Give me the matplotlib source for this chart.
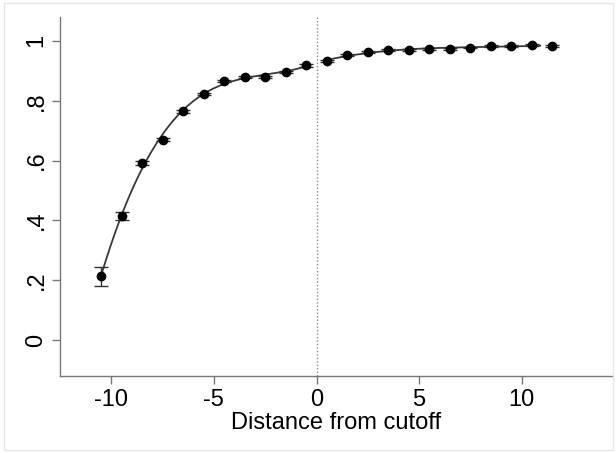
import numpy as np
import matplotlib
matplotlib.use("Agg")
import matplotlib.pyplot as plt
from matplotlib.patches import Rectangle

plt.rcParams['font.family'] = ['Liberation Sans', 'DejaVu Sans']

# Bin midpoints and bin means on each side of the cutoff
x_left = [-10.5, -9.5, -8.5, -7.5, -6.5, -5.5, -4.5, -3.5, -2.5, -1.5, -0.5]
y_left = [0.213, 0.415, 0.592, 0.670, 0.765, 0.823, 0.866, 0.880, 0.880, 0.896, 0.918]
ci_left = [0.033, 0.013, 0.006, 0.005, 0.005, 0.004, 0.004, 0.004, 0.004, 0.004, 0.004]

x_right = [0.5, 1.5, 2.5, 3.5, 4.5, 5.5, 6.5, 7.5, 8.5, 9.5, 10.5, 11.5]
y_right = [0.933, 0.952, 0.963, 0.969, 0.970, 0.973, 0.974, 0.978, 0.983, 0.983, 0.987, 0.983]
ci_right = [0.003, 0.003, 0.003, 0.003, 0.003, 0.003, 0.003, 0.003, 0.003, 0.003, 0.003, 0.003]

xticks = [-10, -5, 0, 5, 10]
yticks = [0, 0.2, 0.4, 0.6, 0.8, 1.0]
ytick_labels = ["0", ".2", ".4", ".6", ".8", "1"]

fig = plt.figure(figsize=(6.16, 4.53), dpi=100)
ax = fig.add_axes([60 / 616, 1 - 376 / 453, 552 / 616, 359 / 453])

# Light outline around the graph region
fig.patches.append(Rectangle((4 / 616, 3 / 453), 609 / 616, 447 / 453,
                             transform=fig.transFigure, fill=False,
                             edgecolor="#e6e6e6", linewidth=1.0))

# Smooth polynomial fits on each side of the cutoff
xl = np.array(x_left)
yl = np.array(y_left)
xr = np.array(x_right)
yr = np.array(y_right)
pl = np.polyfit(xl, yl, 4)
pr = np.polyfit(xr, yr, 3)
gl = np.linspace(xl.min(), xl.max(), 300)
gr = np.linspace(xr.min(), 10.9, 300)
ax.plot(gl, np.polyval(pl, gl), color="#3a3a3a", lw=1.3, zorder=2)
ax.plot(gr, np.polyval(pr, gr), color="#3a3a3a", lw=1.3, zorder=2)

for xs, ys, es in [(x_left, y_left, ci_left), (x_right, y_right, ci_right)]:
    ax.errorbar(xs, ys, yerr=es, fmt="o", color="black", ecolor="#333333",
                elinewidth=1.0, capsize=5, capthick=1.0, markersize=6,
                zorder=3)

ax.axvline(0, color="#8a8a8a", lw=1.0, ls=(0, (1, 1.5)), zorder=1)

ax.set_xlim(-12.5, 14.4)
ax.set_ylim(-0.12, 1.08)
ax.set_xticks(xticks)
ax.set_xticklabels([str(t) for t in xticks])
ax.set_yticks(yticks)
ax.set_yticklabels(ytick_labels, rotation=90, va="center")

for s in ["top", "right"]:
    ax.spines[s].set_visible(False)
for s in ["left", "bottom"]:
    ax.spines[s].set_color("#777777")
    ax.spines[s].set_linewidth(1.0)
ax.tick_params(axis="both", direction="out", length=6, width=1.0,
               color="#777777", labelsize=17, pad=3)
ax.set_xlabel("Distance from cutoff", fontsize=17, labelpad=1)

fig.savefig("out.png", dpi=100)
